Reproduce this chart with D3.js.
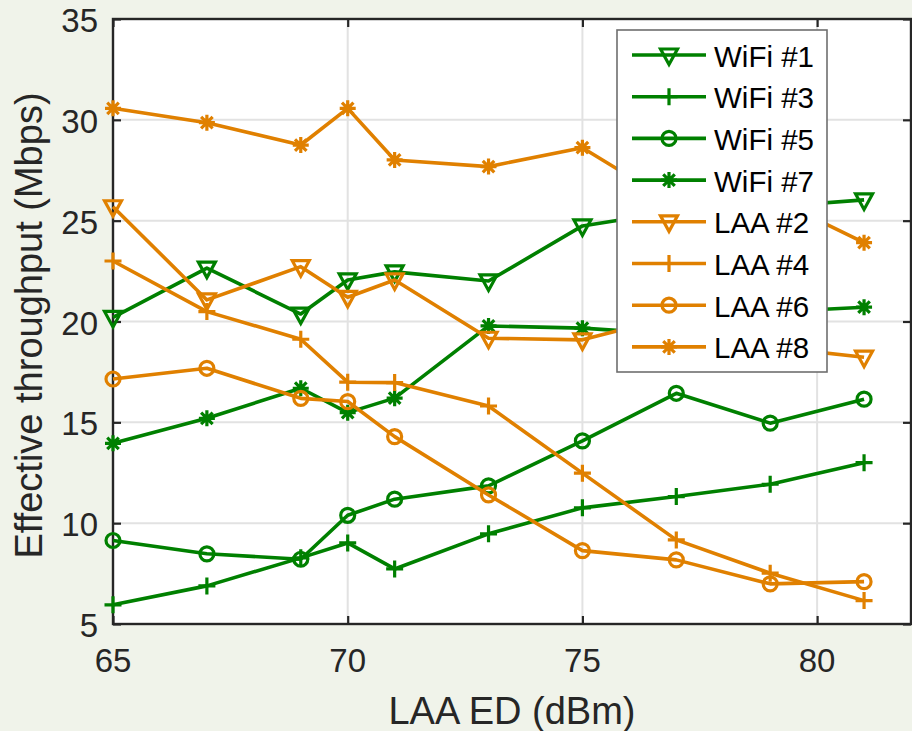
<!DOCTYPE html>
<html>
<head>
<meta charset="utf-8">
<script src="https://cdn.jsdelivr.net/npm/d3@7"></script>
<style>
  html, body { margin: 0; padding: 0; background: #f0f3ea; }
  svg { display: block; }
  text { font-family: "Liberation Sans", Arial, Helvetica, sans-serif; fill: #262626; }
</style>
</head>
<body>
<svg id="chart" width="912" height="731"></svg>
<script>
// ---- data ----
const xValues = [65, 67, 69, 70, 71, 73, 75, 77, 79, 81];
const seriesNames = ["WiFi #1", "WiFi #3", "WiFi #5", "WiFi #7", "LAA #2", "LAA #4", "LAA #6", "LAA #8"];
const wifi1 = [20.2, 22.65, 20.37, 22.06, 22.46, 22.01, 24.74, 25.48, 25.68, 26.03];
const wifi3 = [5.95, 6.89, 8.28, 9.02, 7.73, 9.47, 10.76, 11.32, 11.93, 13.0];
const wifi5 = [9.14, 8.48, 8.21, 10.39, 11.19, 11.85, 14.08, 16.44, 14.96, 16.15];
const wifi7 = [13.96, 15.2, 16.69, 15.48, 16.2, 19.78, 19.67, 19.36, 20.47, 20.71];
const laa2  = [25.69, 21.07, 22.72, 21.2, 22.06, 19.17, 19.09, 20.28, 18.74, 18.23];
const laa4  = [23.0, 20.49, 19.12, 16.99, 16.97, 15.81, 12.48, 9.17, 7.52, 6.16];
const laa6  = [17.15, 17.68, 16.19, 16.03, 14.29, 11.4, 8.64, 8.18, 6.99, 7.1];
const laa8  = [30.57, 29.86, 28.75, 30.57, 28.01, 27.68, 28.62, 25.78, 26.18, 23.91];
const seriesValues = [wifi1, wifi3, wifi5, wifi7, laa2, laa4, laa6, laa8];
const seriesMarkers = ["tri", "plus", "circle", "star", "tri", "plus", "circle", "star"];
const seriesColors = ["#008000", "#008000", "#008000", "#008000", "#e08000", "#e08000", "#e08000", "#e08000"];
const xTicks = [65, 70, 75, 80];
const yTicks = [5, 10, 15, 20, 25, 30, 35];
const xDomain = [65, 82];
const yDomain = [5, 35];
const xLabel = "LAA ED (dBm)";
const yLabel = "Effective throughput (Mbps)";

// ---- layout ----
const plot = { left: 113, right: 911, top: 19, bottom: 624 };
const svg = d3.select("#chart");
const x = d3.scaleLinear().domain(xDomain).range([plot.left, plot.right]);
const y = d3.scaleLinear().domain(yDomain).range([plot.bottom, plot.top]);

// plot background
svg.append("rect")
  .attr("x", plot.left).attr("y", plot.top)
  .attr("width", plot.right - plot.left).attr("height", plot.bottom - plot.top)
  .attr("fill", "#ffffff");

// grid
const grid = svg.append("g").attr("stroke", "#e2e2e2").attr("stroke-width", 2);
grid.selectAll("line.gx").data(xTicks).join("line")
  .attr("x1", d => x(d)).attr("x2", d => x(d))
  .attr("y1", plot.top).attr("y2", plot.bottom);
grid.selectAll("line.gy").data(yTicks).join("line")
  .attr("y1", d => y(d)).attr("y2", d => y(d))
  .attr("x1", plot.left).attr("x2", plot.right);

// axes (ticks inside, box on)
const tickLen = 8;
const axisColor = "#262626";
function styleAxis(g) {
  g.select(".domain").remove();
  g.selectAll(".tick line").attr("stroke", axisColor).attr("stroke-width", 2.2);
  g.selectAll(".tick text").remove();
}
svg.append("g").attr("transform", `translate(0,${plot.bottom})`)
  .call(d3.axisBottom(x).tickValues(xTicks).tickSizeInner(-tickLen).tickSizeOuter(0)).call(styleAxis);
svg.append("g").attr("transform", `translate(0,${plot.top})`)
  .call(d3.axisTop(x).tickValues(xTicks).tickSizeInner(-tickLen).tickSizeOuter(0)).call(styleAxis);
svg.append("g").attr("transform", `translate(${plot.left},0)`)
  .call(d3.axisLeft(y).tickValues(yTicks).tickSizeInner(-tickLen).tickSizeOuter(0)).call(styleAxis);
svg.append("g").attr("transform", `translate(${plot.right},0)`)
  .call(d3.axisRight(y).tickValues(yTicks).tickSizeInner(-tickLen).tickSizeOuter(0)).call(styleAxis);

svg.append("rect")
  .attr("x", plot.left).attr("y", plot.top)
  .attr("width", plot.right - plot.left).attr("height", plot.bottom - plot.top)
  .attr("fill", "none").attr("stroke", axisColor).attr("stroke-width", 2.4);

// tick labels
svg.append("g").selectAll("text").data(xTicks).join("text")
  .attr("x", d => x(d)).attr("y", plot.bottom + 48)
  .attr("text-anchor", "middle").attr("font-size", 33)
  .text(d => d);
svg.append("g").selectAll("text").data(yTicks).join("text")
  .attr("x", plot.left - 15).attr("y", d => y(d) + 13)
  .attr("text-anchor", "end").attr("font-size", 33)
  .text(d => d);

// axis labels
svg.append("text")
  .attr("x", (plot.left + plot.right) / 2).attr("y", 724)
  .attr("text-anchor", "middle").attr("font-size", 38)
  .text(xLabel);
svg.append("text")
  .attr("transform", `translate(42,${(plot.top + plot.bottom) / 2 + 4}) rotate(-90)`)
  .attr("text-anchor", "middle").attr("font-size", 38)
  .text(yLabel);

// markers
function markerPath(type) {
  const p = d3.path();
  if (type === "tri") {
    p.moveTo(-8.5, -6); p.lineTo(8.5, -6); p.lineTo(0, 9.5); p.closePath();
  } else if (type === "plus") {
    p.moveTo(-8.5, 0); p.lineTo(8.5, 0); p.moveTo(0, -8.5); p.lineTo(0, 8.5);
  } else if (type === "circle") {
    p.moveTo(7, 0); p.arc(0, 0, 7, 0, 2 * Math.PI);
  } else if (type === "star") {
    const r = 8, d = r * 0.72;
    p.moveTo(-r, 0); p.lineTo(r, 0); p.moveTo(0, -r); p.lineTo(0, r);
    p.moveTo(-d, -d); p.lineTo(d, d); p.moveTo(-d, d); p.lineTo(d, -d);
  }
  return p.toString();
}

const line = d3.line().x(d => x(d[0])).y(d => y(d[1]));
seriesValues.forEach((vals, i) => {
  const pts = xValues.map((xv, j) => [xv, vals[j]]);
  const g = svg.append("g");
  g.append("path").attr("d", line(pts))
    .attr("fill", "none").attr("stroke", seriesColors[i]).attr("stroke-width", 3.6)
    .attr("stroke-linejoin", "round");
  g.selectAll("path.m").data(pts).join("path").attr("class", "m")
    .attr("transform", d => `translate(${x(d[0])},${y(d[1])})`)
    .attr("d", markerPath(seriesMarkers[i]))
    .attr("fill", "none").attr("stroke", seriesColors[i]).attr("stroke-width", 3.2);
});

// legend
const leg = { x: 617, y: 30, w: 210, h: 342, row0: 55, rowH: 41.7 };
const lg = svg.append("g");
lg.append("rect").attr("x", leg.x).attr("y", leg.y).attr("width", leg.w).attr("height", leg.h)
  .attr("fill", "#ffffff").attr("stroke", "#6e6e6e").attr("stroke-width", 1.6);
seriesNames.forEach((name, i) => {
  const cy = leg.row0 + i * leg.rowH;
  lg.append("line").attr("x1", leg.x + 15).attr("x2", leg.x + 89).attr("y1", cy).attr("y2", cy)
    .attr("stroke", seriesColors[i]).attr("stroke-width", 3.6);
  lg.append("path").attr("transform", `translate(${leg.x + 52},${cy})`)
    .attr("d", markerPath(seriesMarkers[i]))
    .attr("fill", "none").attr("stroke", seriesColors[i]).attr("stroke-width", 3.2);
  lg.append("text").attr("x", leg.x + 97).attr("y", cy + 11.5)
    .attr("font-size", 29.5).attr("fill", "#000").style("fill", "#000")
    .text(name);
});
</script>
</body>
</html>
